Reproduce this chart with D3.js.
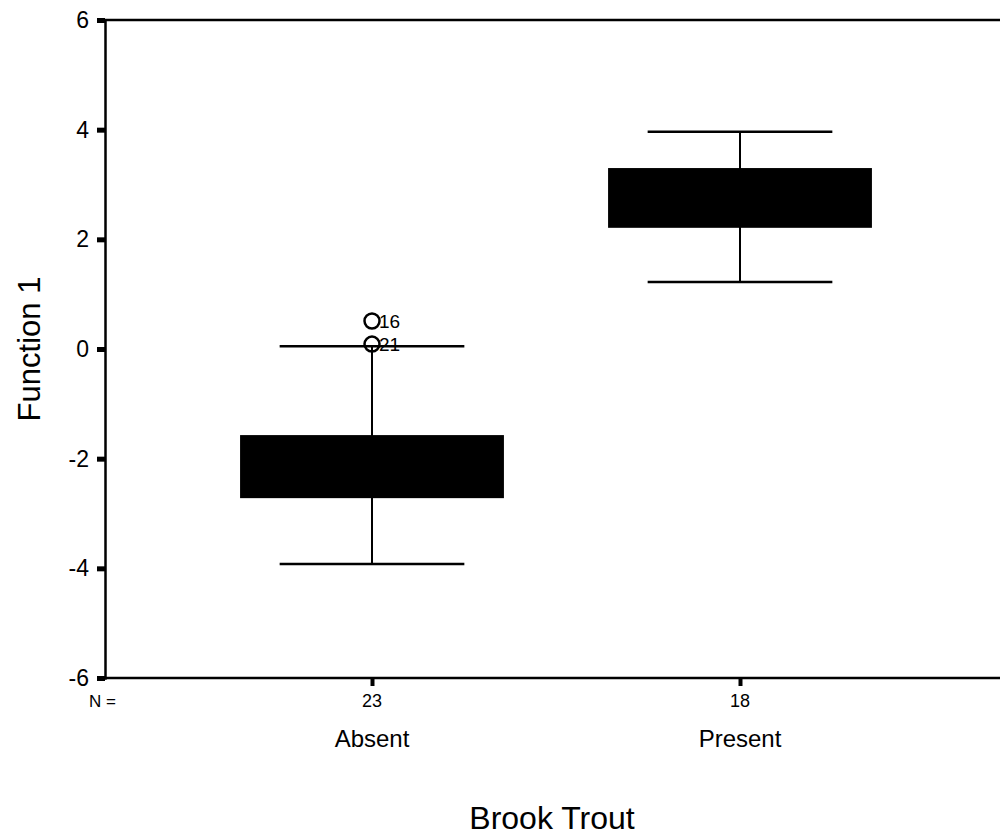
<!DOCTYPE html>
<html>
<head>
<meta charset="utf-8">
<script src="https://cdn.jsdelivr.net/npm/d3@7"></script>
<style>
  body { margin: 0; background: #fff; }
  svg text { font-family: "Liberation Sans", Arial, sans-serif; fill: #000; }
</style>
</head>
<body>
<div id="chart"></div>
<script>
// data
var categories = ["Absent", "Present"];
var counts = [23, 18];
var whiskerLow = [-3.92, 1.22];
var boxLow = [-2.72, 2.21];
var boxHigh = [-1.57, 3.30];
var whiskerHigh = [0.05, 3.96];
var outlierCats = ["Absent", "Absent"];
var outlierValues = [0.51, 0.09];
var outlierLabels = ["16", "21"];
var yTicks = [-6, -4, -2, 0, 2, 4, 6];

var width = 1000, height = 837;
// plot edges (window.top is read-only, so no "top" here)
var plotLeft = 105, plotRight = 1000, plotTop = 20, plotBottom = 678;

var svg = d3.select("#chart").append("svg")
  .attr("width", width)
  .attr("height", height);

var y = d3.scaleLinear().domain([-6, 6]).range([plotBottom, plotTop]);
var x = d3.scalePoint().domain(categories).range([372, 740]);
var boxW = x.step() * 0.717;
var capW = boxW * 0.7;

// frame: top line
svg.append("line")
  .attr("x1", plotLeft).attr("x2", plotRight)
  .attr("y1", y(6)).attr("y2", y(6))
  .attr("stroke", "#000").attr("stroke-width", 2.5);

// Y axis
var yAxis = svg.append("g")
  .attr("transform", "translate(" + plotLeft + ",0)")
  .call(d3.axisLeft(y).tickValues(yTicks).tickSize(8).tickPadding(8)
        .tickFormat(d3.format("d")));
yAxis.select(".domain").attr("stroke-width", 2.5);
yAxis.selectAll(".tick line").attr("stroke-width", 5);
yAxis.selectAll(".tick text").attr("font-size", 23).attr("font-family", null)
  .text(function(d) { return d < 0 ? "-" + Math.abs(d) : d; });

// X axis
var xAxis = svg.append("g")
  .attr("transform", "translate(0," + plotBottom + ")")
  .call(d3.axisBottom(x).tickSize(8).tickFormat(""));
xAxis.select(".domain").remove();
xAxis.selectAll(".tick line").attr("stroke-width", 4);
svg.append("line")
  .attr("x1", plotLeft - 8).attr("x2", plotRight)
  .attr("y1", plotBottom).attr("y2", plotBottom)
  .attr("stroke", "#000").attr("stroke-width", 2.5);

// boxes
var groups = svg.selectAll(".box")
  .data(categories)
  .enter().append("g")
  .attr("class", "box");

groups.append("line")
  .attr("x1", function(d) { return x(d); })
  .attr("x2", function(d) { return x(d); })
  .attr("y1", function(d, i) { return y(whiskerLow[i]); })
  .attr("y2", function(d, i) { return y(whiskerHigh[i]); })
  .attr("stroke", "#000").attr("stroke-width", 2);

groups.selectAll(".cap")
  .data(function(d, i) { return [[d, whiskerLow[i]], [d, whiskerHigh[i]]]; })
  .enter().append("line")
  .attr("x1", function(d) { return x(d[0]) - capW / 2; })
  .attr("x2", function(d) { return x(d[0]) + capW / 2; })
  .attr("y1", function(d) { return y(d[1]); })
  .attr("y2", function(d) { return y(d[1]); })
  .attr("stroke", "#000").attr("stroke-width", 2.5);

groups.append("rect")
  .attr("x", function(d) { return x(d) - boxW / 2; })
  .attr("y", function(d, i) { return y(boxHigh[i]); })
  .attr("width", boxW)
  .attr("height", function(d, i) { return y(boxLow[i]) - y(boxHigh[i]); })
  .attr("fill", "#000");

// outliers
outlierValues.forEach(function(v, i) {
  svg.append("circle")
    .attr("cx", x(outlierCats[i]))
    .attr("cy", y(v))
    .attr("r", 7.5)
    .attr("fill", "none")
    .attr("stroke", "#000").attr("stroke-width", 2.5);
  svg.append("text")
    .attr("x", x(outlierCats[i]) + 7)
    .attr("y", y(v) + 7)
    .attr("font-size", 19)
    .text(outlierLabels[i]);
});

// N counts and category labels
svg.append("text")
  .attr("x", 89).attr("y", 707)
  .attr("font-size", 17)
  .text("N =");

svg.selectAll(".nlab")
  .data(categories)
  .enter().append("text")
  .attr("x", function(d) { return x(d); })
  .attr("y", 707)
  .attr("text-anchor", "middle")
  .attr("font-size", 18)
  .text(function(d, i) { return counts[i]; });

svg.selectAll(".catlab")
  .data(categories)
  .enter().append("text")
  .attr("x", function(d) { return x(d); })
  .attr("y", 747)
  .attr("text-anchor", "middle")
  .attr("font-size", 24)
  .text(function(d) { return d; });

// axis titles
svg.append("text")
  .attr("x", 552).attr("y", 829)
  .attr("text-anchor", "middle")
  .attr("font-size", 32)
  .text("Brook Trout");

svg.append("text")
  .attr("transform", "translate(40,349) rotate(-90)")
  .attr("text-anchor", "middle")
  .attr("font-size", 31)
  .text("Function 1");
</script>
</body>
</html>
